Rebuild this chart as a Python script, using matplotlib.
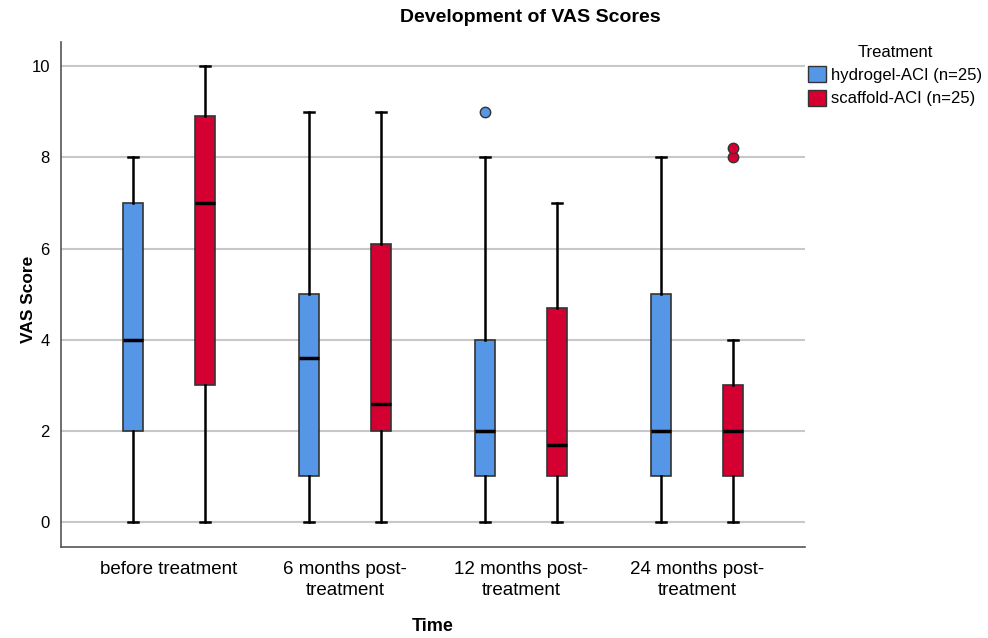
import numpy as np
import matplotlib
matplotlib.use('Agg')
import matplotlib.pyplot as plt

# Categories and box statistics
times = ['before treatment', '6 months post-\ntreatment',
         '12 months post-\ntreatment', '24 months post-\ntreatment']
groups = ['hydrogel-ACI (n=25)', 'scaffold-ACI (n=25)']
colors = ['#5596E6', '#D50032']

# whislo, q1, median, q3, whishi
hydrogel = [[0, 2, 4, 7, 8],
            [0, 1, 3.6, 5, 9],
            [0, 1, 2, 4, 8],
            [0, 1, 2, 5, 8]]
scaffold = [[0, 3, 7, 8.9, 10],
            [0, 2, 2.6, 6.1, 9],
            [0, 1, 1.7, 4.7, 7],
            [0, 1, 2, 3, 4]]
hydrogel_fliers = [[], [], [9], []]
scaffold_fliers = [[], [], [], [8, 8.2]]

plt.rcParams['font.family'] = ['Liberation Sans', 'DejaVu Sans']

fig = plt.figure(figsize=(9.88, 6.38), dpi=100)
ax = fig.add_axes([0.0617, 0.1426, 0.7531, 0.7915])


def make_stats(rows, fliers):
    out = []
    for r, f in zip(rows, fliers):
        out.append(dict(whislo=r[0], q1=r[1], med=r[2], q3=r[3],
                        whishi=r[4], fliers=f))
    return out


offset = 0.205
x = np.arange(len(times))
for stats, fl, col, sign in [(hydrogel, hydrogel_fliers, colors[0], -1),
                             (scaffold, scaffold_fliers, colors[1], 1)]:
    ax.bxp(make_stats(stats, fl), positions=x + sign * offset, widths=0.114,
           patch_artist=True, manage_ticks=False,
           boxprops=dict(facecolor=col, edgecolor='#333333', linewidth=1.2),
           medianprops=dict(color='black', linewidth=2.5),
           whiskerprops=dict(color='black', linewidth=1.8),
           capprops=dict(color='black', linewidth=1.8),
           capwidths=0.055,
           flierprops=dict(marker='o', markerfacecolor=col,
                           markeredgecolor='#333333', markersize=7.5,
                           markeredgewidth=1.0))

ax.set_xlim(-0.614, 3.614)
ax.set_ylim(-0.548, 10.53)
ax.set_yticks([0, 2, 4, 6, 8, 10])
ax.set_xticks(x)
ax.set_xticklabels(times, fontsize=13.5, linespacing=1.3)
ax.tick_params(axis='y', labelsize=12, length=0, pad=8)
ax.tick_params(axis='x', length=0, pad=10)
ax.yaxis.grid(True, color='#C8C8C8', linewidth=1.5)
ax.set_axisbelow(True)
for s in ['top', 'right']:
    ax.spines[s].set_visible(False)
for s in ['left', 'bottom']:
    ax.spines[s].set_color('#555555')
    ax.spines[s].set_linewidth(1.2)

ax.set_ylabel('VAS Score', fontsize=12.5, fontweight='bold')
ax.yaxis.set_label_coords(-0.034, 0.49)
ax.set_xlabel('Time', fontsize=13, fontweight='bold', labelpad=14)
fig.text(530 / 988, 1 - 18 / 638, 'Development of VAS Scores', fontsize=14,
         fontweight='bold', ha='center', va='center')

handles = [plt.Rectangle((0, 0), 1, 1, facecolor=c, edgecolor='#333333')
           for c in colors]
leg = fig.legend(handles, groups, title='Treatment', loc='upper left',
                 bbox_to_anchor=(801 / 988, 1 - 38 / 638), frameon=False,
                 fontsize=12, title_fontsize=12, handlelength=1.1,
                 handleheight=1.1, handletextpad=0.3, labelspacing=0.4,
                 borderaxespad=0)

fig.savefig('out.png', dpi=100)
